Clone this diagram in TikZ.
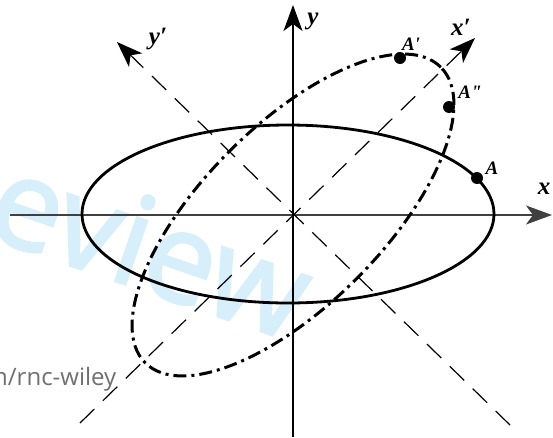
\documentclass[tikz,border=0pt]{standalone}
\usepackage{fontspec}
\setmainfont{Liberation Serif}
\newfontfamily\wmfont{Open Sans}[RawFeature={embolden=2.2}]
\newfontfamily\urlfont{Open Sans}
\usetikzlibrary{arrows.meta}
\definecolor{wmblue}{RGB}{214,239,251}
\definecolor{wmgray}{RGB}{112,112,112}
\definecolor{ink}{RGB}{0,0,0}
\tikzset{
  >={Stealth[length=26pt,width=19pt,inset=7pt]},
  axis/.style={line width=1.4pt,draw=#1},
  axis/.default=ink,
  guide/.style={line width=1.2pt,dash pattern=on 20pt off 12pt},
  orbit/.style={line width=2.8pt},
  turned/.style={line width=3pt,dash pattern=on 13pt off 5pt on 3pt off 5pt},
  dot/.style={circle,fill=ink,inner sep=0pt,minimum size=12pt},
  lab/.style={font=\fontsize{25}{25}\selectfont\bfseries\itshape},
  ptlab/.style={font=\fontsize{19}{19}\selectfont\bfseries\itshape},
  % watermark texts
  wm/.style={text=wmblue,font=\wmfont\fontsize{125}{125}\selectfont,inner sep=0pt},
  wmurl/.style={text=wmgray,font=\urlfont\fontsize{24}{24}\selectfont,inner sep=0pt},
}
\begin{document}
\begin{tikzpicture}[x=1pt,y=1pt]
  \useasboundingbox (-293,-222) rectangle (260,215);
  % watermark
  \node[wm,rotate=-19,anchor=base west] (wmark) at (-311,-20) {eview};
  \node[wmurl,anchor=base west] (wmlink) at (-300,-170) {n/rnc-wiley};
  % axes
  \coordinate (O) at (0,0);
  \coordinate (xs) at (-283,0);
  \coordinate (xe) at (259,0);
  \coordinate (ys) at (0,-222);
  \coordinate (ye) at (0,210);
  \coordinate (xps) at (-213,-208);
  \coordinate (xpe) at (182,177);
  \coordinate (yps) at (217,-210);
  \coordinate (ype) at (-176,173);
  \draw[axis=ink!75,->] (xs) -- (xe);
  \draw[axis,->] (ys) -- (ye);
  \draw[guide,->] (xps) -- (xpe);
  \draw[guide,->] (yps) -- (ype);
  % ellipses
  \draw[orbit] (-5,1) ellipse [x radius=206,y radius=89];
  \draw[turned,rotate=45] (O) ellipse [x radius=209,y radius=90];
  % points
  \node[dot] (A) at (184,37) {};
  \node[dot] (A2) at (156,108) {};
  \node[dot] (A1) at (107,157) {};
  \node[ptlab] (lA) at (199,47) {A};
  \node[ptlab] (lA2) at (177,123) {A\textquotedbl};
  \node[ptlab] (lA1) at (118,171) {A\textquotesingle};
  % labels
  \node[lab] (lx) at (251,26) {x};
  \node[lab] (ly) at (20,194) {y};
  \node[lab] (lxp) at (168,188) {x′};
  \node[lab] (lyp) at (-135,176) {y′};
\end{tikzpicture}
\end{document}
